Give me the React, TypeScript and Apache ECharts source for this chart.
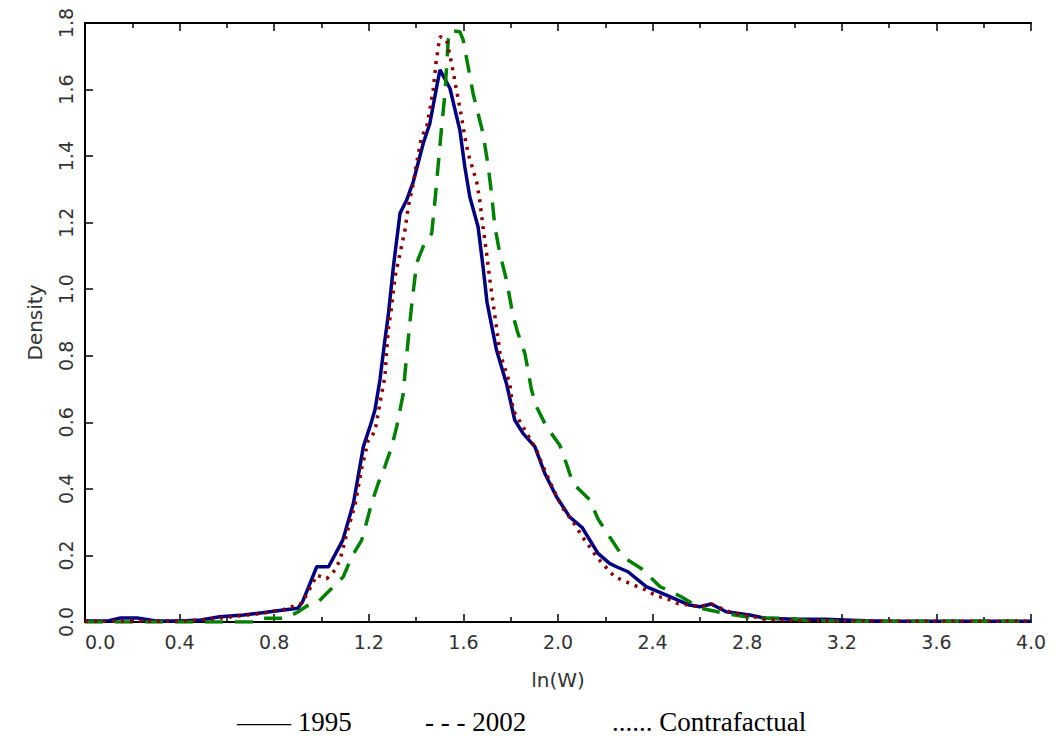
import React, { useEffect, useRef } from "react";
import * as echarts from "echarts";

// ln(W) positions and densities
const x1995 = [0.0, 0.1, 0.15, 0.22, 0.3, 0.4, 0.49, 0.57, 0.67, 0.75, 0.84, 0.9, 0.92, 0.94, 0.98, 1.03, 1.09, 1.135, 1.177, 1.205, 1.226, 1.247, 1.268, 1.282, 1.304, 1.332, 1.36, 1.388, 1.43, 1.458, 1.487, 1.501, 1.543, 1.585, 1.606, 1.627, 1.662, 1.683, 1.7, 1.74, 1.782, 1.817, 1.852, 1.902, 1.944, 1.993, 2.049, 2.102, 2.169, 2.218, 2.247, 2.296, 2.373, 2.458, 2.556, 2.6, 2.648, 2.711, 2.81, 2.88, 3.0, 3.13, 3.3, 3.4, 4.0];
const y1995 = [0.003, 0.004, 0.012, 0.012, 0.003, 0.003, 0.006, 0.016, 0.021, 0.028, 0.036, 0.041, 0.061, 0.096, 0.166, 0.166, 0.246, 0.357, 0.527, 0.587, 0.637, 0.727, 0.847, 0.92, 1.068, 1.228, 1.268, 1.323, 1.438, 1.498, 1.608, 1.659, 1.604, 1.478, 1.368, 1.278, 1.188, 1.068, 0.96, 0.817, 0.717, 0.607, 0.567, 0.527, 0.447, 0.377, 0.316, 0.284, 0.206, 0.176, 0.166, 0.151, 0.106, 0.081, 0.051, 0.046, 0.054, 0.031, 0.021, 0.011, 0.008, 0.008, 0.004, 0.002, 0.002];

const x2002 = [0.0, 0.55, 0.72, 0.75, 0.846, 0.9, 0.938, 0.98, 1.015, 1.092, 1.128, 1.17, 1.191, 1.212, 1.24, 1.268, 1.297, 1.318, 1.332, 1.346, 1.353, 1.367, 1.381, 1.402, 1.43, 1.466, 1.48, 1.494, 1.508, 1.522, 1.536, 1.543, 1.585, 1.599, 1.62, 1.641, 1.683, 1.705, 1.719, 1.733, 1.754, 1.782, 1.81, 1.831, 1.86, 1.873, 1.888, 1.909, 1.951, 2.007, 2.035, 2.063, 2.134, 2.169, 2.218, 2.274, 2.352, 2.432, 2.521, 2.6, 2.704, 2.795, 2.88, 2.98, 3.05, 3.3, 4.0];
const y2002 = [0.0, 0.0, 0.0, 0.011, 0.011, 0.03, 0.048, 0.056, 0.081, 0.136, 0.196, 0.246, 0.301, 0.357, 0.417, 0.467, 0.527, 0.587, 0.637, 0.687, 0.747, 0.852, 0.95, 1.078, 1.128, 1.168, 1.268, 1.378, 1.488, 1.588, 1.749, 1.777, 1.774, 1.749, 1.669, 1.588, 1.468, 1.368, 1.288, 1.188, 1.108, 1.028, 0.92, 0.867, 0.807, 0.757, 0.697, 0.647, 0.587, 0.532, 0.477, 0.417, 0.367, 0.31, 0.256, 0.196, 0.161, 0.106, 0.076, 0.042, 0.026, 0.016, 0.011, 0.011, 0.004, 0.002, 0.002];

const xContra = [0.0, 0.3, 0.45, 0.55, 0.65, 0.75, 0.84, 0.917, 0.959, 0.98, 1.022, 1.057, 1.078, 1.107, 1.142, 1.17, 1.198, 1.226, 1.247, 1.268, 1.282, 1.297, 1.311, 1.332, 1.353, 1.367, 1.388, 1.402, 1.423, 1.445, 1.458, 1.472, 1.484, 1.494, 1.501, 1.529, 1.55, 1.571, 1.592, 1.606, 1.62, 1.656, 1.669, 1.683, 1.698, 1.712, 1.733, 1.755, 1.796, 1.81, 1.86, 1.909, 1.937, 1.972, 2.017, 2.063, 2.113, 2.169, 2.239, 2.32, 2.373, 2.416, 2.458, 2.507, 2.556, 2.598, 2.648, 2.69, 2.732, 2.781, 2.82, 2.86, 3.0, 3.5, 4.0];
const yContra = [0.002, 0.002, 0.004, 0.01, 0.018, 0.026, 0.038, 0.056, 0.111, 0.141, 0.13, 0.156, 0.186, 0.266, 0.352, 0.462, 0.547, 0.572, 0.657, 0.737, 0.877, 0.95, 1.038, 1.108, 1.178, 1.248, 1.318, 1.378, 1.458, 1.488, 1.538, 1.598, 1.679, 1.729, 1.759, 1.749, 1.679, 1.598, 1.518, 1.458, 1.408, 1.323, 1.268, 1.188, 1.108, 1.028, 0.92, 0.807, 0.717, 0.637, 0.577, 0.517, 0.467, 0.412, 0.345, 0.301, 0.246, 0.191, 0.136, 0.111, 0.096, 0.078, 0.071, 0.055, 0.051, 0.046, 0.054, 0.041, 0.028, 0.021, 0.018, 0.009, 0.004, 0.002, 0.002];

const seriesNames = ["1995", "2002", "Contrafactual"];
const legendTexts = ["—— 1995", "- - - 2002", "...... Contrafactual"];

const zip = (xs: number[], ys: number[]) => xs.map((x, i) => [x, ys[i]]);

export default function App() {
  const ref = useRef<HTMLDivElement>(null);
  useEffect(() => {
    document.body.style.margin = "0";
    const chart = echarts.init(ref.current!, null, { renderer: "svg" });
    const labelFont = {
      fontFamily: "DejaVu Sans",
      fontSize: 19,
      color: "#333",
    };
    const xBase = {
      type: "value" as const,
      min: 0,
      max: 4,
      interval: 0.4,
      splitLine: { show: false },
      axisLine: { show: true, onZero: false, lineStyle: { color: "#000", width: 2 } },
      axisTick: { show: true, inside: true, length: 8, lineStyle: { color: "#000", width: 1.5 } },
      minorTick: { show: true, splitNumber: 2, length: 5, lineStyle: { color: "#000", width: 1.5 } },
    };
    chart.setOption({
      animation: false,
      grid: { left: 85, right: 23, top: 23, bottom: 122 },
      xAxis: [
        {
          ...xBase,
          position: "bottom",
          name: "ln(W)",
          nameLocation: "middle",
          nameGap: 48,
          nameTextStyle: { ...labelFont, fontSize: 20 },
          axisLabel: {
            ...labelFont,
            margin: 10,
            alignMinLabel: "left",
            formatter: (v: number) => v.toFixed(1),
          },
        },
        {
          ...xBase,
          position: "top",
          axisLabel: { show: false },
        },
      ],
      yAxis: [
        {
          type: "value",
          min: 0,
          max: 1.8,
          interval: 0.2,
          name: "Density",
          nameLocation: "middle",
          nameRotate: 90,
          nameGap: 40,
          nameTextStyle: { ...labelFont, fontSize: 20 },
          splitLine: { show: false },
          axisLine: { show: true, lineStyle: { color: "#000", width: 2 } },
          axisTick: { show: true, inside: true, length: 8, lineStyle: { color: "#000", width: 1.5 } },
          axisLabel: {
            ...labelFont,
            rotate: 90,
            margin: 10,
            formatter: (v: number) => v.toFixed(1),
          },
        },
        {
          type: "value",
          position: "right",
          min: 0,
          max: 1.8,
          interval: 0.2,
          splitLine: { show: false },
          axisLine: { show: true, lineStyle: { color: "#000", width: 2 } },
          axisTick: { show: false },
          axisLabel: { show: false },
        },
      ],
      series: [
        {
          name: seriesNames[0],
          type: "line",
          showSymbol: false,
          data: zip(x1995, y1995),
          lineStyle: { color: "#000080", width: 3.5, type: "solid" },
          z: 2,
        },
        {
          name: seriesNames[1],
          type: "line",
          showSymbol: false,
          data: zip(x2002, y2002),
          lineStyle: { color: "#008000", width: 3.5, type: [18, 12] },
          z: 3,
        },
        {
          name: seriesNames[2],
          type: "line",
          showSymbol: false,
          data: zip(xContra, yContra),
          lineStyle: { color: "#8b0000", width: 3.5, type: [3, 6] },
          z: 4,
        },
      ],
      graphic: legendTexts.map((t, i) => ({
        type: "text",
        left: [237, 425, 612][i],
        top: 708,
        style: {
          text: t,
          font: "27px 'Liberation Serif'",
          fill: "#000",
        },
      })),
    });
    return () => chart.dispose();
  }, []);
  return <div ref={ref} style={{ width: 1054, height: 744 }} />;
}
